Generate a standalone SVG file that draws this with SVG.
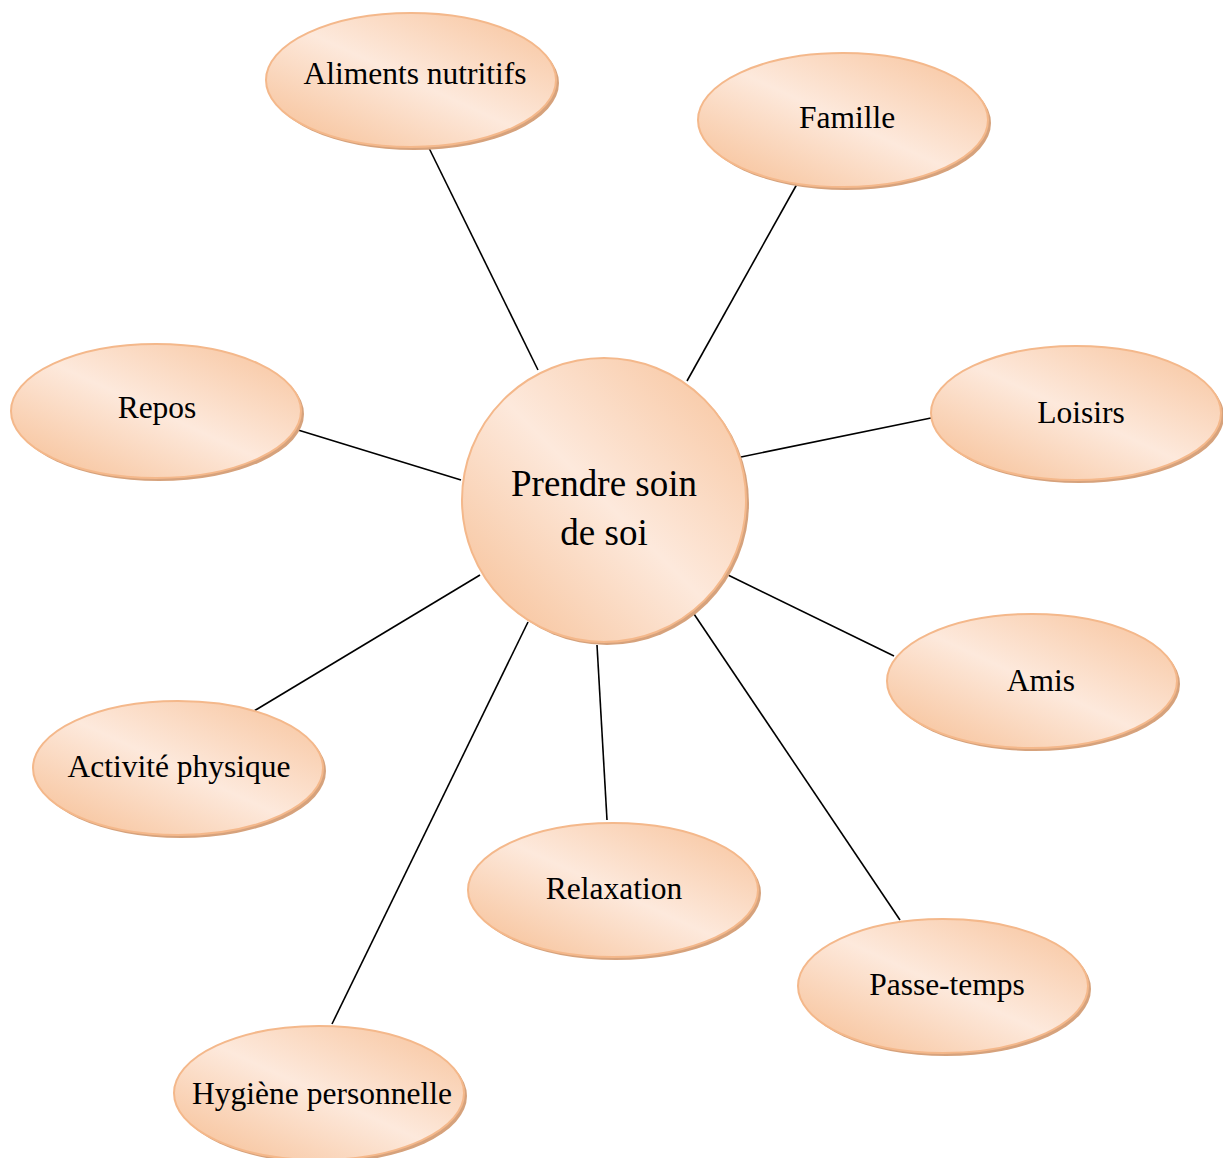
<svg xmlns="http://www.w3.org/2000/svg" width="1223" height="1158" viewBox="0 0 1223 1158">
<defs>
<linearGradient id="g" x1="0" y1="1" x2="1" y2="0">
<stop offset="0" stop-color="#f6bd91"/>
<stop offset="0.5" stop-color="#fde9dc"/>
<stop offset="1" stop-color="#f7c29a"/>
</linearGradient>
<style>
.sh{fill:#d6a27c;}
.nd{fill:url(#g);stroke:#f4b88b;stroke-width:2;}
.t{font-family:"Liberation Serif","Times New Roman",serif;font-size:31.5px;fill:#000;text-anchor:middle;}
.tc{font-size:37px;}
.cn line{stroke:#000;stroke-width:1.6;}
</style>
</defs>
<rect width="1223" height="1158" fill="#fff"/>
<g class="cn" id="connectors">
<line x1="428" y1="146" x2="538" y2="370"/>
<line x1="797" y1="184" x2="687" y2="381"/>
<line x1="931" y1="418" x2="741" y2="457"/>
<line x1="298" y1="430" x2="461" y2="480"/>
<line x1="894" y1="656" x2="728" y2="575"/>
<line x1="254" y1="711" x2="480" y2="575"/>
<line x1="607" y1="820" x2="597" y2="645"/>
<line x1="900" y1="920" x2="694" y2="614"/>
<line x1="332" y1="1024" x2="528" y2="622"/>
</g>
<g id="center">
<circle class="sh" cx="607" cy="503" r="142"/>
<circle class="nd" cx="604" cy="500" r="142"/>
<text class="t tc" x="604" y="496">Prendre soin</text>
<text class="t tc" x="604" y="545">de soi</text>
</g>
<g id="aliments">
<ellipse class="sh" cx="414" cy="83" rx="145" ry="67"/>
<ellipse class="nd" cx="411" cy="80" rx="145" ry="67"/>
<text class="t" x="415" y="84">Aliments nutritifs</text>
</g>
<g id="famille">
<ellipse class="sh" cx="846" cy="123" rx="145" ry="67"/>
<ellipse class="nd" cx="843" cy="120" rx="145" ry="67"/>
<text class="t" x="847" y="128">Famille</text>
</g>
<g id="loisirs">
<ellipse class="sh" cx="1079" cy="416" rx="145" ry="67"/>
<ellipse class="nd" cx="1076" cy="413" rx="145" ry="67"/>
<text class="t" x="1081" y="423">Loisirs</text>
</g>
<g id="repos">
<ellipse class="sh" cx="159" cy="414" rx="145" ry="67"/>
<ellipse class="nd" cx="156" cy="411" rx="145" ry="67"/>
<text class="t" x="157" y="418">Repos</text>
</g>
<g id="amis">
<ellipse class="sh" cx="1035" cy="684" rx="145" ry="67"/>
<ellipse class="nd" cx="1032" cy="681" rx="145" ry="67"/>
<text class="t" x="1041" y="691">Amis</text>
</g>
<g id="activite">
<ellipse class="sh" cx="181" cy="771" rx="145" ry="67"/>
<ellipse class="nd" cx="178" cy="768" rx="145" ry="67"/>
<text class="t" x="179" y="777">Activité physique</text>
</g>
<g id="relaxation">
<ellipse class="sh" cx="616" cy="893" rx="145" ry="67"/>
<ellipse class="nd" cx="613" cy="890" rx="145" ry="67"/>
<text class="t" x="614" y="899">Relaxation</text>
</g>
<g id="passetemps">
<ellipse class="sh" cx="946" cy="989" rx="145" ry="67"/>
<ellipse class="nd" cx="943" cy="986" rx="145" ry="67"/>
<text class="t" x="947" y="995">Passe-temps</text>
</g>
<g id="hygiene">
<ellipse class="sh" cx="322" cy="1096" rx="145" ry="67"/>
<ellipse class="nd" cx="319" cy="1093" rx="145" ry="67"/>
<text class="t" x="322" y="1104">Hygiène personnelle</text>
</g>
</svg>
